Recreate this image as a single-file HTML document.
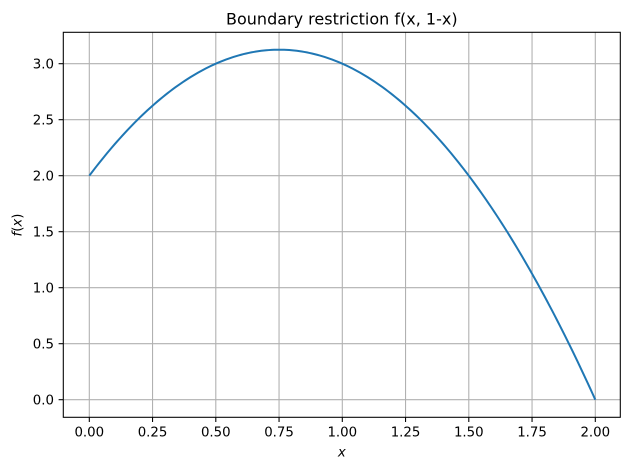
<!DOCTYPE html>
<html><head><meta charset="utf-8"><style>
html,body{margin:0;padding:0;background:#fff;}
svg{display:block;}
text{font-family:"DejaVu Sans","Liberation Sans",sans-serif;fill:#000;}
</style></head><body>
<svg width="630" height="470" viewBox="0 0 630 470" xmlns="http://www.w3.org/2000/svg">
<rect width="630" height="470" fill="#fff"/>
<g stroke="#b0b0b0" stroke-width="1.07">
<line x1="89.3" y1="32.3" x2="89.3" y2="417.3"/>
<line x1="152.55" y1="32.3" x2="152.55" y2="417.3"/>
<line x1="215.8" y1="32.3" x2="215.8" y2="417.3"/>
<line x1="279.05" y1="32.3" x2="279.05" y2="417.3"/>
<line x1="342.3" y1="32.3" x2="342.3" y2="417.3"/>
<line x1="405.55" y1="32.3" x2="405.55" y2="417.3"/>
<line x1="468.8" y1="32.3" x2="468.8" y2="417.3"/>
<line x1="532.05" y1="32.3" x2="532.05" y2="417.3"/>
<line x1="595.3" y1="32.3" x2="595.3" y2="417.3"/>
<line x1="63.3" y1="399.7" x2="620.3" y2="399.7"/>
<line x1="63.3" y1="343.7" x2="620.3" y2="343.7"/>
<line x1="63.3" y1="287.7" x2="620.3" y2="287.7"/>
<line x1="63.3" y1="231.7" x2="620.3" y2="231.7"/>
<line x1="63.3" y1="175.7" x2="620.3" y2="175.7"/>
<line x1="63.3" y1="119.7" x2="620.3" y2="119.7"/>
<line x1="63.3" y1="63.7" x2="620.3" y2="63.7"/>
</g>
<polyline fill="none" stroke="#1f77b4" stroke-width="2" stroke-linejoin="round" stroke-linecap="square" points="
89.30,175.70 99.42,162.48 109.54,149.62 119.66,137.12 129.78,124.98 139.90,113.21 150.02,101.79 160.14,90.74 170.26,80.05 180.38,69.72 190.50,59.76 200.62,50.16 210.74,40.92 220.86,32.04 230.98,23.53 241.10,15.38 251.22,7.60 261.34,0.18 271.46,-6.88 281.58,-13.58 291.70,-19.92 " style="display:none"/>
<path id="curve" fill="none" stroke="#1f77b4" stroke-width="2" stroke-linejoin="round" d=""/>
<g stroke="#000" stroke-width="1.07" fill="none">
<rect x="63.3" y="32.3" width="557" height="385"/>
</g>
<g stroke="#000" stroke-width="1.07">
<line x1="89.3" y1="417.3" x2="89.3" y2="422"/>
<line x1="152.55" y1="417.3" x2="152.55" y2="422"/>
<line x1="215.8" y1="417.3" x2="215.8" y2="422"/>
<line x1="279.05" y1="417.3" x2="279.05" y2="422"/>
<line x1="342.3" y1="417.3" x2="342.3" y2="422"/>
<line x1="405.55" y1="417.3" x2="405.55" y2="422"/>
<line x1="468.8" y1="417.3" x2="468.8" y2="422"/>
<line x1="532.05" y1="417.3" x2="532.05" y2="422"/>
<line x1="595.3" y1="417.3" x2="595.3" y2="422"/>
<line x1="58.6" y1="399.7" x2="63.3" y2="399.7"/>
<line x1="58.6" y1="343.7" x2="63.3" y2="343.7"/>
<line x1="58.6" y1="287.7" x2="63.3" y2="287.7"/>
<line x1="58.6" y1="231.7" x2="63.3" y2="231.7"/>
<line x1="58.6" y1="175.7" x2="63.3" y2="175.7"/>
<line x1="58.6" y1="119.7" x2="63.3" y2="119.7"/>
<line x1="58.6" y1="63.7" x2="63.3" y2="63.7"/>
</g>
<g font-size="13.33" text-anchor="middle">
<text x="89.3" y="436.7">0.00</text>
<text x="152.55" y="436.7">0.25</text>
<text x="215.8" y="436.7">0.50</text>
<text x="279.05" y="436.7">0.75</text>
<text x="342.3" y="436.7">1.00</text>
<text x="405.55" y="436.7">1.25</text>
<text x="468.8" y="436.7">1.50</text>
<text x="532.05" y="436.7">1.75</text>
<text x="595.3" y="436.7">2.00</text>
</g>
<g font-size="13.33" text-anchor="end">
<text x="54" y="404.5">0.0</text>
<text x="54" y="348.5">0.5</text>
<text x="54" y="292.5">1.0</text>
<text x="54" y="236.5">1.5</text>
<text x="54" y="180.5">2.0</text>
<text x="54" y="124.5">2.5</text>
<text x="54" y="68.5">3.0</text>
</g>
<text x="341.8" y="456.7" font-size="13.33" text-anchor="middle" font-style="italic">x</text>
<text transform="translate(21.3,225) rotate(-90)" font-size="13.33" text-anchor="middle"><tspan font-style="italic">f</tspan>(<tspan font-style="italic">x</tspan>)</text>
<text x="341.8" y="24.5" font-size="16" text-anchor="middle">Boundary restriction f(x, 1-x)</text>
</svg>
<script>
(function(){
var d="";
for(var i=0;i<=200;i++){
var x=2*i/200;var y=2+3*x-2*x*x;
var px=89.3+253*x, py=399.7-112*y;
d+=(i?"L":"M")+px.toFixed(2)+","+py.toFixed(2);
}
document.getElementById("curve").setAttribute("d",d);
})();
</script>
</body></html>
